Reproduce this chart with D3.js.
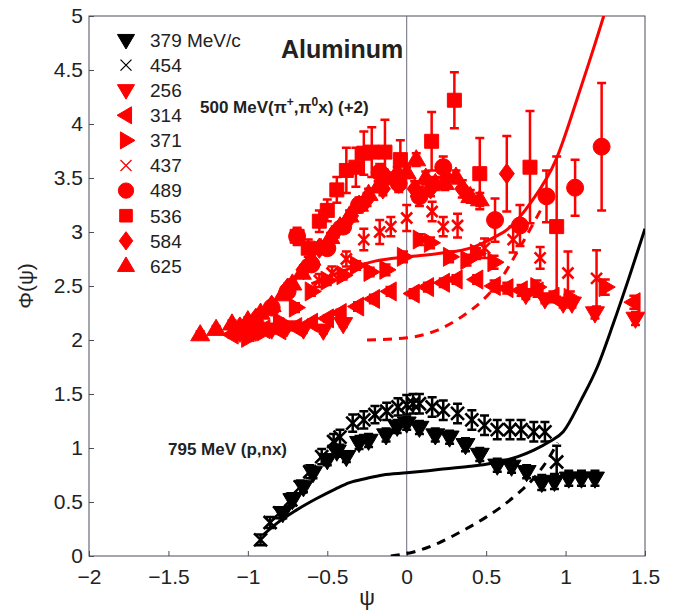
<!DOCTYPE html>
<html>
<head>
<meta charset="utf-8">
<script src="https://cdn.jsdelivr.net/npm/d3@7"></script>
<style>
  body { margin: 0; background: #fff; }
  svg { font-family: "Liberation Sans", Arial, Helvetica, sans-serif; }
</style>
</head>
<body>
<div id="chart"></div>
<script>
// ---- data ----
const xTicks = [-2, -1.5, -1, -0.5, 0, 0.5, 1, 1.5];
const yTicks = [0, 0.5, 1, 1.5, 2, 2.5, 3, 3.5, 4, 4.5, 5];

const legendLabels = ["379 MeV/c", "454", "256", "314", "371", "437", "489", "536", "584", "625"];

// black: 795 MeV (p,nx)
const psi379 = [-0.78, -0.72, -0.65, -0.59, -0.5, -0.44, -0.38, -0.3, -0.24, -0.13, -0.06, 0, 0.08, 0.18, 0.27, 0.37, 0.46, 0.57, 0.66, 0.755, 0.85, 0.93, 1.02, 1.1, 1.185];
const phi379 = [0.40, 0.52, 0.64, 0.77, 0.89, 0.97, 0.92, 1.05, 1.07, 1.12, 1.20, 1.23, 1.19, 1.12, 1.10, 1.03, 0.94, 0.84, 0.83, 0.78, 0.68, 0.69, 0.72, 0.72, 0.72];
const err379 = [0.05, 0.05, 0.05, 0.05, 0.05, 0.05, 0.05, 0.06, 0.06, 0.06, 0.06, 0.06, 0.06, 0.06, 0.06, 0.06, 0.06, 0.06, 0.06, 0.06, 0.07, 0.07, 0.07, 0.07, 0.07];

const psi454 = [-0.92, -0.86, -0.8, -0.73, -0.67, -0.61, -0.535, -0.46, -0.42, -0.34, -0.27, -0.2, -0.126, -0.055, 0, 0.04, 0.08, 0.16, 0.23, 0.32, 0.41, 0.49, 0.57, 0.65, 0.72, 0.8, 0.87, 0.944];
const phi454 = [0.15, 0.31, 0.40, 0.52, 0.64, 0.78, 0.92, 1.06, 1.10, 1.23, 1.26, 1.31, 1.34, 1.38, 1.40, 1.41, 1.41, 1.38, 1.35, 1.32, 1.26, 1.21, 1.17, 1.17, 1.17, 1.15, 1.15, 0.87];
const err454 = [0.05, 0.05, 0.05, 0.06, 0.06, 0.06, 0.07, 0.07, 0.07, 0.08, 0.08, 0.08, 0.08, 0.08, 0.09, 0.09, 0.09, 0.09, 0.09, 0.09, 0.09, 0.09, 0.09, 0.09, 0.09, 0.09, 0.09, 0.15];

// red: 500 MeV (pi+, pi0 x), shifted by +2
const psi256 = [-1.05, -0.95, -0.85, -0.755, -0.65, -0.525, -0.4, 0.75, 0.87, 0.985, 1.04, 1.185, 1.44];
const phi256 = [2.07, 2.08, 2.10, 2.12, 2.10, 2.09, 2.15, 2.42, 2.38, 2.34, 2.34, 2.25, 2.20];
const err256 = [0.03, 0.03, 0.03, 0.03, 0.03, 0.03, 0.03, 0.04, 0.04, 0.04, 0.04, 0.05, 0.06];

const psi314 = [-1.1, -1.0, -0.9, -0.8, -0.7, -0.6, -0.5, -0.42, -0.31, -0.21, -0.105, 0.04, 0.13, 0.23, 0.31, 0.44, 0.55, 0.63, 0.72, 0.82, 0.92, 1.43];
const phi314 = [2.05, 2.07, 2.10, 2.09, 2.12, 2.16, 2.20, 2.25, 2.31, 2.38, 2.45, 2.43, 2.49, 2.53, 2.56, 2.56, 2.50, 2.48, 2.46, 2.45, 2.40, 2.35];
const err314 = [0.03, 0.03, 0.03, 0.03, 0.03, 0.03, 0.03, 0.03, 0.04, 0.04, 0.04, 0.04, 0.04, 0.04, 0.04, 0.04, 0.05, 0.05, 0.05, 0.05, 0.05, 0.06];

const psi371 = [-1.0, -0.9, -0.8, -0.7, -0.6, -0.5, -0.4, -0.315, -0.23, -0.13, -0.02, 0.08, 0.15, 0.27, 0.38, 0.44, 0.55, 0.82, 1.03, 1.25];
const phi371 = [2.02, 2.08, 2.17, 2.30, 2.45, 2.55, 2.60, 2.69, 2.63, 2.65, 2.77, 2.93, 2.90, 2.77, 2.74, 2.80, 2.72, 2.49, 2.39, 2.49];
const err371 = [0.03, 0.03, 0.03, 0.04, 0.04, 0.04, 0.04, 0.04, 0.04, 0.05, 0.05, 0.05, 0.05, 0.05, 0.05, 0.05, 0.06, 0.06, 0.06, 0.07];

const psi437 = [-0.55, -0.47, -0.38, -0.27, -0.17, -0.1, 0, 0.16, 0.23, 0.32, 0.49, 0.67, 0.84, 1.015, 1.195];
const phi437 = [2.55, 2.62, 2.75, 2.93, 3.00, 3.05, 3.13, 3.19, 3.05, 3.06, 2.85, 2.93, 2.76, 2.62, 2.57];
const err437 = [0.06, 0.06, 0.07, 0.10, 0.11, 0.09, 0.12, 0.09, 0.09, 0.11, 0.09, 0.12, 0.10, 0.20, 0.26];

const psi489 = [-1.03, -0.95, -0.85, -0.75, -0.69, -0.6, -0.5, -0.4, -0.3, -0.17, -0.05, 0.08, 0.23, 0.556, 0.713, 0.88, 1.06, 1.227];
const phi489 = [2.09, 2.15, 2.30, 2.45, 2.96, 2.70, 2.85, 3.05, 3.25, 3.55, 3.45, 3.33, 3.60, 3.11, 3.06, 3.33, 3.41, 3.79];
const err489 = [0.04, 0.04, 0.04, 0.05, 0.06, 0.05, 0.06, 0.06, 0.07, 0.08, 0.08, 0.09, 0.10, 0.20, 0.19, 0.24, 0.26, 0.59];

const psi536 = [-0.69, -0.62, -0.55, -0.5, -0.44, -0.38, -0.32, -0.27, -0.22, -0.137, -0.04, 0.157, 0.30, 0.46, 0.776, 0.944];
const phi536 = [2.96, 2.85, 3.10, 3.20, 3.39, 3.57, 3.60, 3.73, 3.74, 3.74, 3.67, 3.84, 4.22, 3.54, 3.60, 3.05];
const err536 = [0.08, 0.08, 0.10, 0.10, 0.12, 0.21, 0.18, 0.20, 0.23, 0.30, 0.18, 0.27, 0.26, 0.33, 0.52, 0.65];

const psi584 = [-1.05, -0.95, -0.85, -0.75, -0.65, -0.55, -0.45, -0.35, -0.25, -0.15, -0.05, 0.05, 0.15, 0.25, 0.35, 0.63];
const phi584 = [2.12, 2.20, 2.32, 2.48, 2.65, 2.85, 3.00, 3.15, 3.30, 3.40, 3.45, 3.40, 3.40, 3.50, 3.40, 3.54];
const err584 = [0.03, 0.03, 0.04, 0.04, 0.04, 0.05, 0.05, 0.05, 0.06, 0.06, 0.06, 0.07, 0.07, 0.08, 0.08, 0.35];

const psi625 = [-1.3, -1.2, -1.1, -1.0, -0.92, -0.85, -0.78, -0.72, -0.66, -0.6, -0.54, -0.48, -0.42, -0.36, -0.3, -0.24, -0.18, -0.12, -0.06, 0, 0.06, 0.12, 0.18, 0.24, 0.31, 0.40, 0.46];
const phi625 = [2.05, 2.10, 2.15, 2.18, 2.25, 2.32, 2.42, 2.52, 2.62, 2.75, 2.85, 2.95, 3.05, 3.15, 3.25, 3.35, 3.42, 3.50, 3.55, 3.55, 3.67, 3.50, 3.45, 3.45, 3.51, 3.33, 3.30];
const err625 = [0.03, 0.03, 0.03, 0.03, 0.03, 0.03, 0.03, 0.04, 0.04, 0.04, 0.04, 0.04, 0.04, 0.05, 0.05, 0.05, 0.05, 0.05, 0.05, 0.05, 0.06, 0.06, 0.06, 0.06, 0.06, 0.06, 0.06];

// model curves
const blackSolidX = [-0.9, -0.82, -0.7, -0.57, -0.45, -0.36, -0.25, -0.15, 0, 0.2, 0.4, 0.5, 0.6, 0.7, 0.8, 0.9, 0.985, 1.1, 1.2, 1.3, 1.4, 1.5];
const blackSolidY = [0.20, 0.30, 0.42, 0.53, 0.62, 0.68, 0.72, 0.75, 0.77, 0.80, 0.83, 0.85, 0.88, 0.92, 0.98, 1.06, 1.15, 1.45, 1.75, 2.15, 2.58, 3.03];
const blackDashX = [-0.1, 0.05, 0.2, 0.36, 0.5, 0.6, 0.7, 0.8, 0.9, 0.95];
const blackDashY = [0.0, 0.04, 0.12, 0.24, 0.36, 0.46, 0.58, 0.72, 0.92, 1.05];
const redSolidX = [-0.6, -0.55, -0.4, -0.2, 0, 0.2, 0.42, 0.55, 0.63, 0.78, 0.94, 1.07, 1.15, 1.24, 1.3];
const redSolidY = [2.52, 2.55, 2.64, 2.73, 2.77, 2.80, 2.86, 2.95, 3.02, 3.27, 3.67, 4.22, 4.58, 5.0, 5.3];
const redDashX = [-0.25, 0, 0.19, 0.36, 0.48, 0.6, 0.69, 0.82, 0.86];
const redDashY = [2.00, 2.02, 2.09, 2.23, 2.37, 2.58, 2.80, 3.14, 3.25];

// ---- layout ----
const width = 683, height = 611;
const plotLeft = 89, plotRight = 645, plotTop = 16, plotBottom = 556;

const x = d3.scaleLinear().domain([-2, 1.5]).range([plotLeft, plotRight]);
const y = d3.scaleLinear().domain([0, 5]).range([plotBottom, plotTop]);

const RED = "#ff0000", BLACK = "#000000";

const series = [
  { label: legendLabels[0], psi: psi379, phi: phi379, err: err379, shape: "tdown", color: BLACK, size: 9.5 },
  { label: legendLabels[1], psi: psi454, phi: phi454, err: err454, shape: "x", color: BLACK, size: 6.5 },
  { label: legendLabels[2], psi: psi256, phi: phi256, err: err256, shape: "tdown", color: RED, size: 9.5 },
  { label: legendLabels[3], psi: psi314, phi: phi314, err: err314, shape: "tleft", color: RED, size: 9.5 },
  { label: legendLabels[4], psi: psi371, phi: phi371, err: err371, shape: "tright", color: RED, size: 9.5 },
  { label: legendLabels[5], psi: psi437, phi: phi437, err: err437, shape: "x", color: RED, size: 5.5 },
  { label: legendLabels[6], psi: psi489, phi: phi489, err: err489, shape: "circle", color: RED, size: 8.5 },
  { label: legendLabels[7], psi: psi536, phi: phi536, err: err536, shape: "square", color: RED, size: 7 },
  { label: legendLabels[8], psi: psi584, phi: phi584, err: err584, shape: "diamond", color: RED, size: 7.5 },
  { label: legendLabels[9], psi: psi625, phi: phi625, err: err625, shape: "tup", color: RED, size: 9.5 }
];

function markerPath(shape, s) {
  switch (shape) {
    case "tdown": return `M${-s},${-0.65 * s}L${s},${-0.65 * s}L0,${1.05 * s}Z`;
    case "tup": return `M${-s},${0.65 * s}L${s},${0.65 * s}L0,${-1.05 * s}Z`;
    case "tleft": return `M${0.65 * s},${-s}L${0.65 * s},${s}L${-1.05 * s},0Z`;
    case "tright": return `M${-0.65 * s},${-s}L${-0.65 * s},${s}L${1.05 * s},0Z`;
    case "square": return `M${-s},${-s}H${s}V${s}H${-s}Z`;
    case "diamond": return `M0,${-1.35 * s}L${s},0L0,${1.35 * s}L${-s},0Z`;
    case "circle": return `M${s},0A${s},${s} 0 1,1 ${-s},0A${s},${s} 0 1,1 ${s},0Z`;
    case "x": return `M${-s},${-s}L${s},${s}M${-s},${s}L${s},${-s}`;
  }
}

const svg = d3.select("#chart").append("svg")
  .attr("width", width)
  .attr("height", height);

svg.append("defs").append("clipPath").attr("id", "plot-clip")
  .append("rect").attr("x", plotLeft).attr("y", plotTop)
  .attr("width", plotRight - plotLeft).attr("height", plotBottom - plotTop);

// axes box
svg.append("rect")
  .attr("x", plotLeft).attr("y", plotTop)
  .attr("width", plotRight - plotLeft).attr("height", plotBottom - plotTop)
  .attr("fill", "none").attr("stroke", "#4d4d5a").attr("stroke-width", 1);

// axes (ticks inward)
const xAxis = svg.append("g")
  .attr("transform", `translate(0,${plotBottom})`)
  .call(d3.axisBottom(x).tickValues(xTicks).tickSizeInner(-5).tickSizeOuter(0).tickPadding(13)
    .tickFormat(d3.format("~g")));
const yAxis = svg.append("g")
  .attr("transform", `translate(${plotLeft},0)`)
  .call(d3.axisLeft(y).tickValues(yTicks).tickSizeInner(-5).tickSizeOuter(0).tickPadding(6)
    .tickFormat(d3.format("~g")));
[xAxis, yAxis].forEach(g => {
  g.select(".domain").remove();
  g.selectAll(".tick line").attr("stroke", "#4d4d5a");
  g.selectAll(".tick text").attr("fill", "#222").style("font-size", "21px");
});

// zero line
svg.append("line")
  .attr("x1", x(0)).attr("x2", x(0))
  .attr("y1", plotTop).attr("y2", plotBottom)
  .attr("stroke", "#6a6a80").attr("stroke-width", 1);

// axis labels
svg.append("text")
  .attr("x", (plotLeft + plotRight) / 2).attr("y", 605)
  .attr("text-anchor", "middle")
  .style("font-size", "22px").attr("fill", "#222")
  .text("ψ");
svg.append("text")
  .attr("transform", `translate(33,${(plotTop + plotBottom) / 2}) rotate(-90)`)
  .attr("text-anchor", "middle")
  .style("font-size", "21px").attr("fill", "#222")
  .text("Φ(ψ)");

const plot = svg.append("g").attr("clip-path", "url(#plot-clip)");

// data points with error bars
series.forEach(s => {
  const pts = s.psi.map((p, i) => ({ p: p, v: s.phi[i], e: s.err[i] }));
  const g = plot.append("g");
  const cap = 4.5;
  g.selectAll("path.err")
    .data(pts)
    .enter().append("path")
    .attr("class", "err")
    .attr("d", d => {
      const cx = x(d.p), y0 = y(d.v - d.e), y1 = y(d.v + d.e);
      return `M${cx},${y0}V${y1}M${cx - cap},${y0}H${cx + cap}M${cx - cap},${y1}H${cx + cap}`;
    })
    .attr("fill", "none")
    .attr("stroke", s.color)
    .attr("stroke-width", 2.5);
  g.selectAll("path.mk")
    .data(pts)
    .enter().append("path")
    .attr("class", "mk")
    .attr("transform", d => `translate(${x(d.p)},${y(d.v)})`)
    .attr("d", markerPath(s.shape, s.size))
    .attr("fill", s.shape === "x" ? "none" : s.color)
    .attr("stroke", s.color)
    .attr("stroke-width", s.shape === "x" ? 2.6 : 1);
});

// model curves
const line = d3.line().x(d => x(d[0])).y(d => y(d[1])).curve(d3.curveMonotoneX);
const curves = [
  { xs: blackSolidX, ys: blackSolidY, color: BLACK, dash: null },
  { xs: blackDashX, ys: blackDashY, color: BLACK, dash: "9,7" },
  { xs: redSolidX, ys: redSolidY, color: RED, dash: null },
  { xs: redDashX, ys: redDashY, color: RED, dash: "9,7" }
];
curves.forEach(c => {
  plot.append("path")
    .datum(c.xs.map((v, i) => [v, c.ys[i]]))
    .attr("d", line)
    .attr("fill", "none")
    .attr("stroke", c.color)
    .attr("stroke-width", 3)
    .attr("stroke-dasharray", c.dash);
});

// legend
const legend = svg.append("g");
series.forEach((s, i) => {
  const ly = 40 + i * 25.1;
  legend.append("path")
    .attr("transform", `translate(126,${ly})`)
    .attr("d", markerPath(s.shape, s.shape === "x" ? 5.5 : s.size * 0.9))
    .attr("fill", s.shape === "x" ? "none" : s.color)
    .attr("stroke", s.color)
    .attr("stroke-width", s.shape === "x" ? 1.3 : 1);
  legend.append("text")
    .attr("x", 150).attr("y", ly)
    .attr("dy", "0.36em")
    .style("font-size", "19px").attr("fill", "#222")
    .text(s.label);
});

// annotations
svg.append("text")
  .attr("x", 281).attr("y", 58)
  .style("font-size", "25px").style("font-weight", "bold").attr("fill", "#222")
  .text("Aluminum");

const t500 = svg.append("text")
  .attr("x", 200).attr("y", 113)
  .style("font-size", "17px").style("font-weight", "bold").attr("fill", "#222");
t500.append("tspan").text("500 MeV(π");
t500.append("tspan").attr("dy", -7).style("font-size", "12px").text("+");
t500.append("tspan").attr("dy", 7).text(",π");
t500.append("tspan").attr("dy", -7).style("font-size", "12px").text("0");
t500.append("tspan").attr("dy", 7).text("x) (+2)");

svg.append("text")
  .attr("x", 168).attr("y", 455)
  .style("font-size", "17px").style("font-weight", "bold").attr("fill", "#222")
  .text("795 MeV (p,nx)");
</script>
</body>
</html>
